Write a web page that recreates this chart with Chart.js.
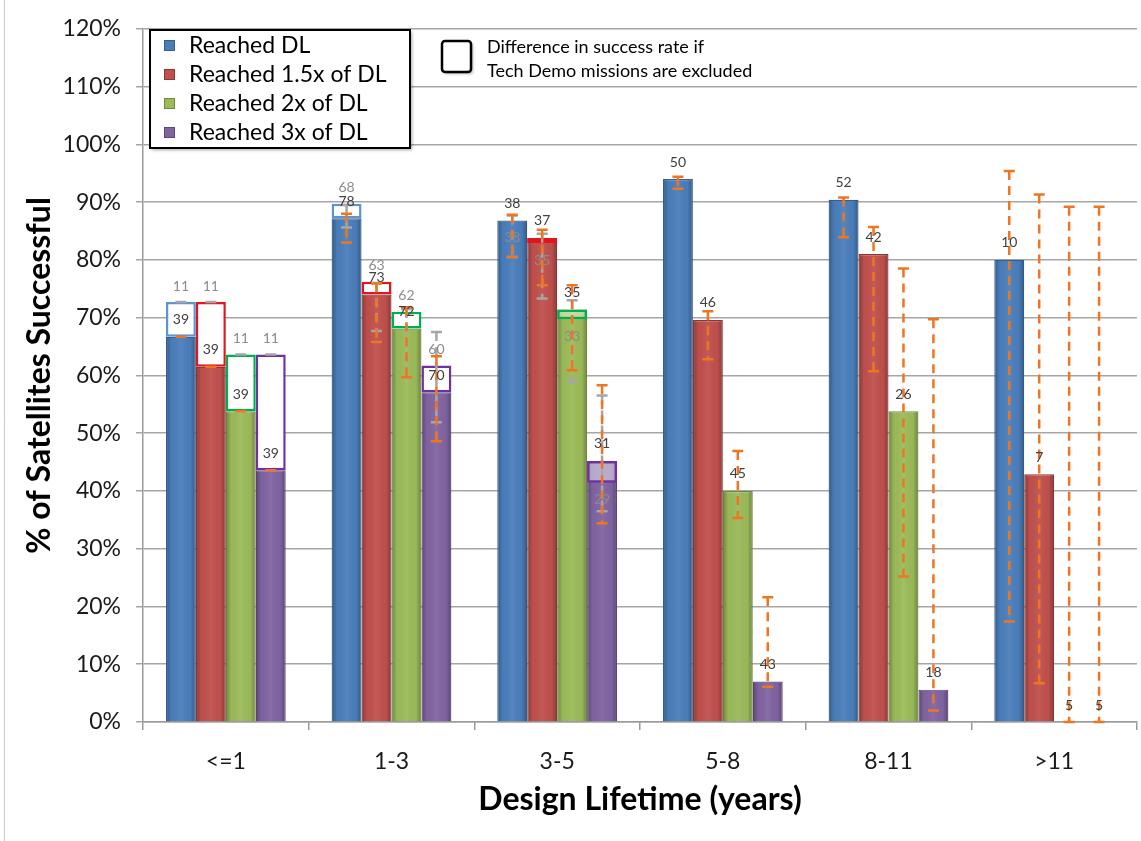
<!DOCTYPE html>
<html>
<head>
<meta charset="utf-8">
<script src="https://cdn.jsdelivr.net/npm/chart.js@4.4.1/dist/chart.umd.min.js"></script>
<style>
  html, body { margin: 0; padding: 0; background: #ffffff; }
  #wrap { width: 1141px; height: 841px; position: relative; }
  canvas { display: block; }
</style>
</head>
<body>
<div id="wrap"><canvas id="c" width="1141" height="841"></canvas></div>
<script>
// Design lifetime buckets
const categories = ['<=1', '1-3', '3-5', '5-8', '8-11', '>11'];
const seriesNames = ['Reached DL', 'Reached 1.5x of DL', 'Reached 2x of DL', 'Reached 3x of DL'];

// Success rate, all missions (%)
const rateDL  = [66.7, 87.2, 86.8, 94.0, 90.4, 80.0];
const rate15x = [61.5, 74.0, 83.8, 69.6, 81.0, 42.9];
const rate2x  = [53.8, 68.1, 71.4, 40.0, 53.8, 0];
const rate3x  = [43.6, 57.1, 45.2, 7.0, 5.6, 0];

// Success rate with Tech Demo missions excluded (%)
const exclDL  = [72.7, 89.7, 86.8, null, null, null];
const excl15x = [72.7, 76.2, 82.9, null, null, null];
const excl2x  = [63.6, 71.0, 69.7, null, null, null];
const excl3x  = [63.6, 61.7, 41.4, null, null, null];

// Number of satellites, all missions
const nAllDL  = [39, 78, 38, 50, 52, 10];
const nAll15x = [39, 73, 37, 46, 42, 7];
const nAll2x  = [39, 72, 35, 45, 26, 5];
const nAll3x  = [39, 70, 31, 43, 18, 5];

// Number of satellites, Tech Demo excluded
const nExclDL  = [11, 68, 38, null, null, null];
const nExcl15x = [11, 63, 35, null, null, null];
const nExcl2x  = [11, 62, 33, null, null, null];
const nExcl3x  = [11, 60, 29, null, null, null];

// Confidence ranges [low, high] (%), all missions
const ciDL  = [[66.7, 66.7], [83.0, 88.0], [80.5, 87.8], [92.3, 94.4], [83.9, 90.8], [17.4, 95.4]];
const ci15x = [[61.5, 61.5], [65.8, 75.9], [75.6, 85.2], [62.8, 71.1], [60.7, 85.7], [6.7, 91.3]];
const ci2x  = [[53.8, 53.8], [59.7, 71.8], [60.9, 75.6], [35.3, 46.9], [25.2, 78.5], [0, 89.2]];
const ci3x  = [[43.6, 43.6], [48.6, 63.3], [34.4, 58.3], [6.1, 21.6], [2.0, 69.7], [0, 89.2]];

// Confidence ranges [low, high] (%), Tech Demo excluded
const ciExclDL  = [[72.7, 72.7], [85.6, 89.5], [80.5, 87.7], null, null, null];
const ciExcl15x = [[72.7, 72.7], [67.7, 76.0], [73.3, 84.5], null, null, null];
const ciExcl2x  = [[63.6, 63.6], [59.7, 71.5], [58.8, 73.0], null, null, null];
const ciExcl3x  = [[63.6, 63.6], [51.9, 67.5], [36.5, 56.5], null, null, null];

const yTicks = [0, 10, 20, 30, 40, 50, 60, 70, 80, 90, 100, 110, 120];

const rates = [rateDL, rate15x, rate2x, rate3x];
const excl = [exclDL, excl15x, excl2x, excl3x];
const nAll = [nAllDL, nAll15x, nAll2x, nAll3x];
const nExcl = [nExclDL, nExcl15x, nExcl2x, nExcl3x];
const ciAll = [ciDL, ci15x, ci2x, ci3x];
const ciExcl = [ciExclDL, ciExcl15x, ciExcl2x, ciExcl3x];

const fillColors = ['#4A7EBB', '#C0504D', '#9BBB59', '#8064A2'];
const edgeColors = ['#365F91', '#8C3836', '#71893F', '#5C4776'];
const boxColors  = ['#5B93D3', '#E3141B', '#00B050', '#7030A0'];

const FONT = 'Lato, "Open Sans", "DejaVu Sans", sans-serif';

// Outlined boxes: span between the all-missions rate and the Tech-Demo-excluded rate
const boxDatasets = excl.map((ex, s) => ({
  label: seriesNames[s] + ' (excl.)',
  data: ex.map((v, i) => (v === null || v === rates[s][i]) ? null : [Math.min(v, rates[s][i]), Math.max(v, rates[s][i])]),
  backgroundColor: (ctx) => {
    const i = ctx.dataIndex;
    return excl[s][i] > rates[s][i] ? '#FFFFFF' : 'rgba(255,255,255,0.45)';
  },
  borderColor: boxColors[s],
  borderWidth: 2.5,
  borderSkipped: false,
  stack: 's' + s,
  order: 0,
  isBox: true
}));

const mainDatasets = rates.map((r, s) => ({
  label: seriesNames[s],
  data: r,
  backgroundColor: fillColors[s],
  borderColor: edgeColors[s],
  borderWidth: 1.2,
  stack: 's' + s,
  order: 1,
  isMain: true,
  series: s
}));

// White page background and a thin frame on the left edge
const backdrop = {
  id: 'backdrop',
  beforeDraw(chart) {
    const c = chart.ctx;
    c.save();
    c.fillStyle = '#ffffff';
    c.fillRect(0, 0, chart.width, chart.height);
    c.strokeStyle = '#C8C8C8';
    c.lineWidth = 1;
    c.beginPath();
    c.moveTo(4.5, 0);
    c.lineTo(4.5, chart.height);
    c.stroke();
    c.restore();
  }
};

// Soft cylindrical shading on the filled bars
const barShade = {
  id: 'barShade',
  afterDatasetDraw(chart, args) {
    const ds = chart.data.datasets[args.index];
    if (!ds.isMain) return;
    const c = chart.ctx;
    c.save();
    args.meta.data.forEach((el) => {
      const p = el.getProps(['x', 'y', 'base', 'width'], true);
      const h = p.base - p.y;
      if (h <= 1) return;
      const x0 = p.x - p.width / 2;
      const g = c.createLinearGradient(x0, 0, x0 + p.width, 0);
      g.addColorStop(0, 'rgba(0,0,0,0.30)');
      g.addColorStop(0.18, 'rgba(0,0,0,0.02)');
      g.addColorStop(0.5, 'rgba(255,255,255,0.06)');
      g.addColorStop(0.82, 'rgba(0,0,0,0.02)');
      g.addColorStop(1, 'rgba(0,0,0,0.30)');
      c.fillStyle = g;
      c.fillRect(x0 + 1, p.y + 1, p.width - 2, h - 1);
    });
    c.restore();
  }
};

function mainMeta(chart, s) {
  const idx = chart.data.datasets.findIndex(d => d.isMain && d.series === s);
  return chart.getDatasetMeta(idx);
}

function drawRange(c, yScale, x, range, color, dash) {
  if (!range) return;
  const yLo = yScale.getPixelForValue(range[0]);
  const yHi = yScale.getPixelForValue(range[1]);
  c.save();
  c.strokeStyle = color;
  c.lineWidth = 2.5;
  if (yLo - yHi > 1) {
    c.setLineDash(dash);
    c.beginPath();
    c.moveTo(x, yHi);
    c.lineTo(x, yLo);
    c.stroke();
  }
  c.setLineDash([]);
  c.beginPath();
  c.moveTo(x - 5.5, yHi); c.lineTo(x + 5.5, yHi);
  c.moveTo(x - 5.5, yLo); c.lineTo(x + 5.5, yLo);
  c.stroke();
  c.restore();
}

// Error ranges and sample-size labels
const annotations = {
  id: 'annotations',
  afterDatasetsDraw(chart) {
    const c = chart.ctx;
    const yScale = chart.scales.y;
    for (let s = 0; s < 4; s++) {
      const meta = mainMeta(chart, s);
      meta.data.forEach((el, i) => {
        drawRange(c, yScale, el.x, ciExcl[s][i], '#A6A6A6', [9, 6]);
        drawRange(c, yScale, el.x, ciAll[s][i], '#EE7620', [9, 6]);
      });
    }
    c.save();
    c.textAlign = 'center';
    c.textBaseline = 'middle';
    c.font = '14px ' + FONT;
    for (let s = 0; s < 4; s++) {
      const meta = mainMeta(chart, s);
      meta.data.forEach((el, i) => {
        const yAll = yScale.getPixelForValue(rates[s][i]);
        c.fillStyle = '#404040';
        c.fillText(String(nAll[s][i]), el.x, yAll - 17);
        if (nExcl[s][i] !== null) {
          const yEx = yScale.getPixelForValue(excl[s][i]);
          const above = excl[s][i] > rates[s][i];
          c.fillStyle = '#8C8C8C';
          c.fillText(String(nExcl[s][i]), el.x, above ? yEx - 16 : yEx + 17);
        }
      });
    }
    c.restore();
  }
};

// Legend panels
const legendPanels = {
  id: 'legendPanels',
  afterDraw(chart) {
    const c = chart.ctx;
    c.save();
    // series legend
    c.shadowColor = 'rgba(0,0,0,0.35)';
    c.shadowOffsetX = 2; c.shadowOffsetY = 2; c.shadowBlur = 3;
    c.fillStyle = '#ffffff';
    c.fillRect(150, 30, 260, 118);
    c.shadowColor = 'transparent';
    c.strokeStyle = '#000000';
    c.lineWidth = 2;
    c.strokeRect(150, 30, 260, 118);
    c.font = '23px ' + FONT;
    c.textBaseline = 'middle';
    c.textAlign = 'left';
    seriesNames.forEach((name, s) => {
      const yc = 45 + s * 29;
      c.fillStyle = fillColors[s];
      c.fillRect(164, yc - 5, 11, 11);
      c.strokeStyle = edgeColors[s];
      c.lineWidth = 1;
      c.strokeRect(164.5, yc - 4.5, 10, 10);
      c.fillStyle = '#000000';
      c.fillText(name, 189, yc + 1);
    });
    // excluded-difference legend
    c.shadowColor = 'rgba(0,0,0,0.3)';
    c.shadowOffsetX = 2; c.shadowOffsetY = 2; c.shadowBlur = 3;
    c.fillStyle = '#ffffff';
    c.beginPath();
    c.roundRect(442, 41, 29, 31, 3);
    c.fill();
    c.shadowColor = 'transparent';
    c.strokeStyle = '#000000';
    c.lineWidth = 2.5;
    c.stroke();
    c.fillStyle = '#000000';
    c.font = '18px ' + FONT;
    c.fillText('Difference in success rate if', 487, 47);
    c.fillText('Tech Demo missions are excluded', 487, 71);
    c.restore();
  }
};

new Chart(document.getElementById('c'), {
  type: 'bar',
  data: {
    labels: categories,
    datasets: [...boxDatasets, ...mainDatasets]
  },
  options: {
    responsive: false,
    animation: false,
    devicePixelRatio: 1,
    layout: { padding: { left: 0, right: 4, top: 28, bottom: 0 } },
    datasets: { bar: { categoryPercentage: 0.723, barPercentage: 1.0, grouped: true } },
    plugins: {
      legend: { display: false },
      tooltip: { enabled: false },
      title: { display: false }
    },
    scales: {
      x: {
        stacked: true,
        grid: { display: true, drawOnChartArea: false, drawTicks: true, tickLength: 8, offset: true, color: '#9A9A9A', lineWidth: 1.5 },
        border: { display: true, color: '#9A9A9A', width: 1.5 },
        ticks: { color: '#1A1A1A', font: { family: FONT, size: 23 }, padding: 18 },
        title: { display: true, text: 'Design Lifetime (years)', color: '#000000', font: { family: FONT, size: 32, weight: 'bold' }, padding: { top: 0, bottom: 22 } },
        afterFit(scale) { scale.height = 119; }
      },
      y: {
        stacked: false,
        min: 0,
        max: 120,
        afterBuildTicks(scale) { scale.ticks = yTicks.map(v => ({ value: v })); },
        grid: { color: '#A6A6A6', lineWidth: 1.5, tickLength: 7, drawTicks: true },
        border: { display: true, color: '#9A9A9A', width: 1.5 },
        ticks: { color: '#1A1A1A', font: { family: FONT, size: 23 }, padding: 15, callback: (v) => v + '%' },
        title: { display: true, text: '% of Satellites Successful', color: '#000000', font: { family: FONT, size: 32, weight: 'bold' }, padding: { top: 20, bottom: 0 } },
        afterFit(scale) { scale.width = 143; }
      }
    }
  },
  plugins: [backdrop, barShade, annotations, legendPanels]
});
</script>
</body>
</html>
